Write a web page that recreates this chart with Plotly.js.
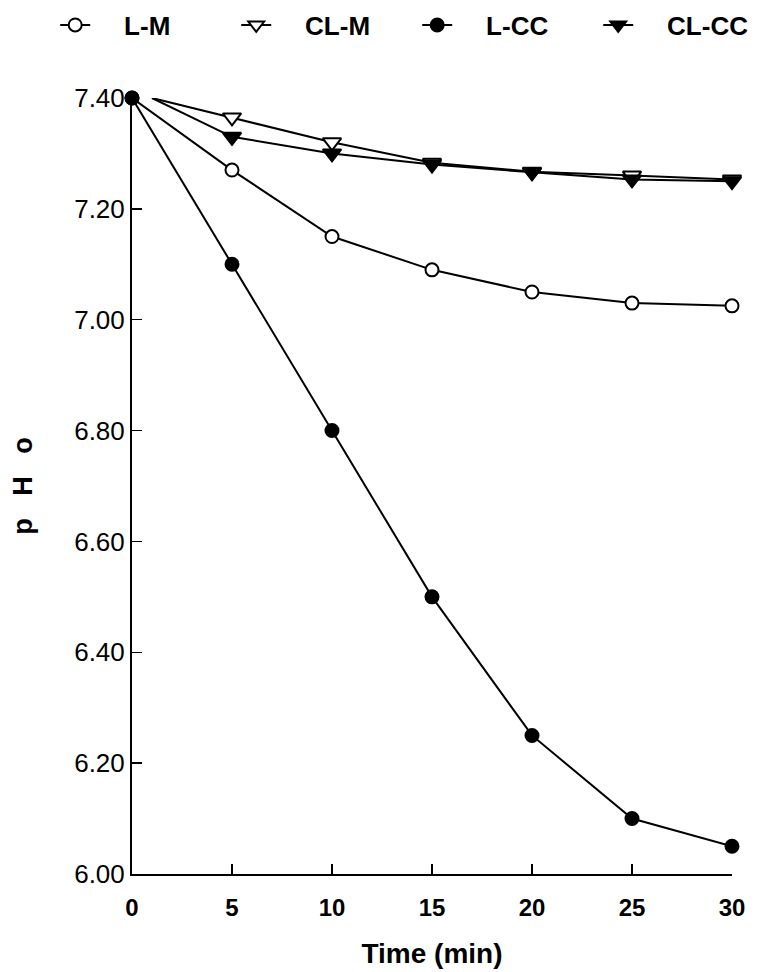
<!DOCTYPE html>
<html>
<head>
<meta charset="utf-8">
<script src="https://cdn.plot.ly/plotly-3.0.1.min.js"></script>
<style>
  html, body { margin: 0; padding: 0; background: #fff; }
  #myDiv { width: 762px; height: 972px; }
</style>
</head>
<body>
<div id="myDiv"></div>
<script>
// Datos
let time = [0, 5, 10, 15, 20, 25, 30];
let timeCL = [1, 5, 10, 15, 20, 25, 30];  // las curvas CL empiezan un poco a la derecha del eje
let phL_M = [7.40, 7.27, 7.15, 7.09, 7.05, 7.03, 7.025];
let phCL_M = [7.40, 7.365, 7.32, 7.283, 7.267, 7.26, 7.253];
let phL_CC = [7.40, 7.10, 6.80, 6.50, 6.25, 6.10, 6.05];
let phCL_CC = [7.40, 7.33, 7.30, 7.28, 7.266, 7.253, 7.25];
let seriesNames = ['L-M', 'CL-M', 'L-CC', 'CL-CC'];
let yTicks = [6.0, 6.2, 6.4, 6.6, 6.8, 7.0, 7.2, 7.4];
let xTicks = [0, 5, 10, 15, 20, 25, 30];

const NB = '\u00a0';

function serie(x, y, name, symbol, fill, size, hideFirst) {
    return {
        x: x,
        y: y,
        name: NB.repeat(4) + name,  // aire entre el símbolo y el texto de la leyenda
        mode: 'lines+markers',
        type: 'scatter',
        cliponaxis: false,
        hoverinfo: 'none',
        line: { color: '#000', width: 2 },
        marker: {
            symbol: symbol,
            size: hideFirst ? y.map((_, i) => i === 0 ? 0 : size) : size,
            color: fill,
            opacity: 1,
            line: { color: '#000', width: 2 }
        }
    };
}

let traces = [
    serie(time, phL_M, seriesNames[0], 'circle', '#fff', 13, false),
    serie(timeCL, phCL_M, seriesNames[1], 'triangle-down', '#fff', 16, true),
    serie(time, phL_CC, seriesNames[2], 'circle', '#000', 13, false),
    serie(timeCL, phCL_CC, seriesNames[3], 'triangle-down', '#000', 16, true)
];

let layout = {
    width: 762,
    height: 972,
    paper_bgcolor: 'white',
    plot_bgcolor: 'white',
    font: { family: 'Liberation Sans, Arial, sans-serif', color: 'black' },
    margin: { l: 132, r: 30, t: 98, b: 98, autoexpand: false },
    showlegend: true,
    legend: {
        orientation: 'h',
        x: -0.128,
        xanchor: 'left',
        y: 1.094,
        yanchor: 'middle',
        entrywidth: 136,
        entrywidthmode: 'pixels',
        font: { size: 26, family: 'Liberation Sans, Arial, sans-serif', weight: 'bold' },
        bgcolor: 'rgba(0,0,0,0)'
    },
    xaxis: {
        range: [0, 30],
        tickvals: xTicks,
        ticks: 'inside',
        ticklen: 10,
        tickwidth: 1.5,
        tickcolor: 'black',
        showline: true,
        linecolor: 'black',
        linewidth: 2,
        showgrid: false,
        zeroline: false,
        ticklabelstandoff: 11,
        tickfont: { size: 24, weight: 'bold' },
        title: { text: 'Time (min)', font: { size: 28, weight: 'bold' }, standoff: 24 },
        fixedrange: true
    },
    yaxis: {
        range: [6, 7.4],
        tickvals: yTicks,
        tickformat: '.2f',
        ticksuffix: NB + NB + NB + NB,
        ticks: 'inside',
        ticklen: 10,
        tickwidth: 1.5,
        tickcolor: 'black',
        showline: true,
        linecolor: 'black',
        linewidth: 2,
        showgrid: false,
        zeroline: false,
        tickfont: { size: 26 },
        title: { text: 'p' + NB + NB + NB + 'H' + NB + NB + NB + 'o', font: { size: 27, weight: 'bold' }, standoff: 34 },
        fixedrange: true
    }
};

Plotly.newPlot('myDiv', traces, layout, { displayModeBar: false, staticPlot: true });
</script>
</body>
</html>
